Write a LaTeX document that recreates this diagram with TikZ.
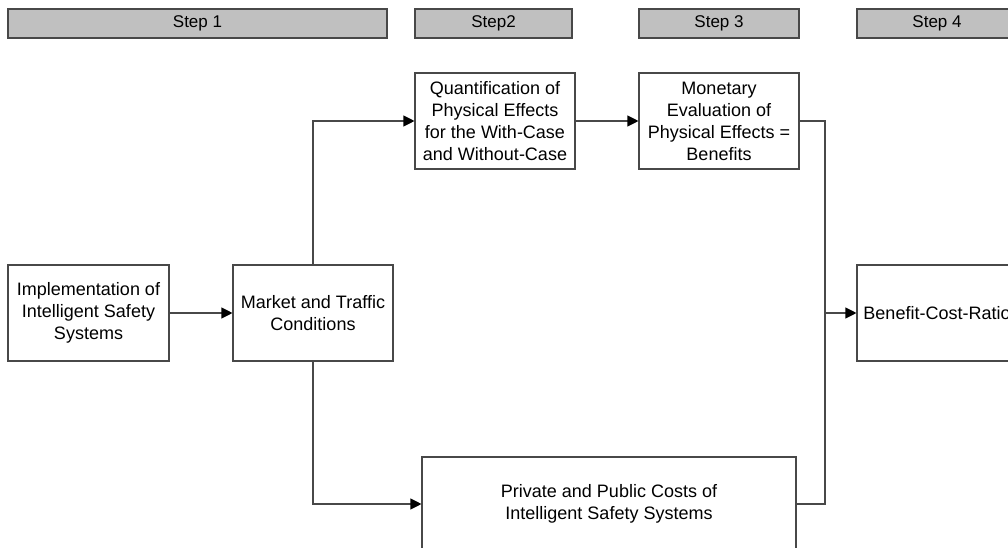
\documentclass[tikz,border=0pt]{standalone}
\usepackage{fontspec}
\setmainfont{Liberation Sans}
\usetikzlibrary{arrows.meta}
\definecolor{linegray}{RGB}{72,72,72}
\definecolor{headfill}{RGB}{192,192,192}
\begin{document}
\begin{tikzpicture}[x=1pt,y=-1pt,
  box/.style={draw=linegray,line width=1.1pt,fill=white,rectangle,inner sep=0pt,
    align=center,font=\fontsize{18}{22}\selectfont,minimum width=160pt,minimum height=96pt},
  head/.style={draw=linegray,line width=1.1pt,fill=headfill,rectangle,inner sep=0pt,
    font=\fontsize{17}{20}\selectfont,minimum height=29pt},
  conn/.style={draw=linegray,line width=1.1pt},
  arr/.style={conn,-{Triangle[length=11pt,width=11pt,black]}}]
\useasboundingbox (0,0) rectangle (1008,548);
\clip (0,0) rectangle (1008,548);
\node[head,minimum width=379pt] (h1) at (197.5,23.5) {Step 1};
\node[head,minimum width=157pt] (h2) at (493.5,23.5) {Step2};
\node[head,minimum width=160pt] (h3) at (719,23.5) {Step 3};
\node[head,minimum width=160pt] (h4) at (937,23.5) {Step 4};

\node[box,minimum width=161pt] (impl) at (88.5,313) {Implementation of\\Intelligent Safety\\Systems};
\node[box] (market) at (313,313) {Market and Traffic\\Conditions};
\node[box] (quant) at (495,121) {Quantification of\\Physical Effects\\for the With-Case\\and Without-Case};
\node[box] (money) at (719,121) {Monetary\\Evaluation of\\Physical Effects =\\Benefits};
\node[box] (bcr) at (937,313) {Benefit-Cost-Ratio};
\node[box,minimum width=374pt,minimum height=94pt] (costs) at (609,504) {Private and Public Costs of\\Intelligent Safety Systems};
\coordinate (j) at (825,313);

\draw[arr] (impl.east) -- (market.west);
\draw[arr] (market.north) |- (quant.west);
\draw[arr] (market.south) |- (costs.west);
\draw[arr] (quant.east) -- (money.west);
\draw[conn] (money.east) -| (j);
\draw[conn] (costs.east) -| (j);
\draw[arr] (j) -- (bcr.west);
\end{tikzpicture}
\end{document}
